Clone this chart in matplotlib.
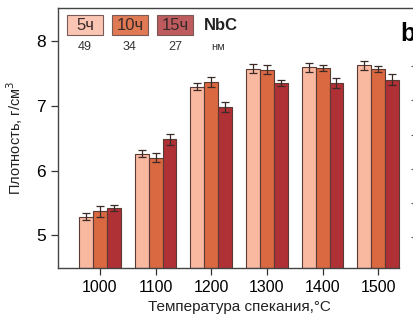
import numpy as np
import matplotlib
matplotlib.use("Agg")
import matplotlib.pyplot as plt
from matplotlib.patches import Rectangle

plt.rcParams['font.family'] = ['Liberation Sans', 'DejaVu Sans']

temps = ['1000', '1100', '1200', '1300', '1400', '1500']
series = ['5ч', '10ч', '15ч']
sizes = ['49', '34', '27']
colors = ['#F9B8A0', '#DA6840', '#AF3035']
box_colors = ['#FAC6B3', '#DF7A55', '#BD5B5E']

dens_5h = [5.29, 6.26, 7.29, 7.57, 7.59, 7.62]
dens_10h = [5.37, 6.20, 7.36, 7.55, 7.58, 7.56]
dens_15h = [5.42, 6.48, 6.98, 7.35, 7.35, 7.40]
err_5h = [0.05, 0.05, 0.05, 0.07, 0.07, 0.07]
err_10h = [0.08, 0.07, 0.08, 0.07, 0.05, 0.05]
err_15h = [0.05, 0.09, 0.08, 0.05, 0.08, 0.08]

W, H = 414, 326
fig = plt.figure(figsize=(W / 100, H / 100), dpi=100)
ax = fig.add_axes([0.140, 0.178, 0.875, 0.797])

x = np.arange(len(temps))
w = 0.25
for i, (vals, errs) in enumerate([(dens_5h, err_5h), (dens_10h, err_10h), (dens_15h, err_15h)]):
    ax.bar(x + (i - 1) * w, np.array(vals) - 4.5, w, bottom=4.5, color=colors[i],
           edgecolor='#5a3a35', linewidth=0.8, zorder=2)
    ax.errorbar(x + (i - 1) * w, vals, yerr=errs, fmt='none', ecolor='#3a2a28',
                elinewidth=0.9, capsize=3, capthick=0.9, zorder=3)

ax.set_xlim(-0.755, 5.755)
ax.set_ylim(4.5, 8.5)
ax.set_xticks(x)
ax.set_xticklabels(temps)
ax.set_yticks([5, 6, 7, 8])
ax.tick_params(labelsize=11.5, length=5, width=0.9, color='#333333', direction='out')
ax.tick_params(axis='y', labelsize=12.5)
ax.spines['right'].set_visible(False)
ax.spines['bottom'].set_bounds(-0.755, 5.38)
for s in ['left', 'bottom', 'top']:
    ax.spines[s].set_color('#444444')
    ax.spines[s].set_linewidth(1.0)

ax.set_xlabel('Температура спекания,°C', fontsize=11, labelpad=4, color='#222222')
ax.set_ylabel('Плотность, г/см$^3$', fontsize=10.5, labelpad=8, color='#222222')

# legend boxes with crystallite sizes underneath
for i, name in enumerate(series):
    x0 = 67 + 45 * i
    fig.patches.append(Rectangle((x0 / W, 1 - 35 / H), 36 / W, 20 / H, transform=fig.transFigure,
                                 facecolor=box_colors[i], edgecolor='#7a5a55', linewidth=0.8))
    fig.text((x0 + 18) / W, 1 - 25 / H, name, fontsize=12, ha='center', va='center', color='#3a2a28')
    fig.text((x0 + 18) / W, 1 - 47 / H, sizes[i], fontsize=9, ha='center', va='center', color='#333333')
fig.text(221 / W, 1 - 25 / H, 'NbC', fontsize=12, fontweight='bold', ha='center', va='center',
         color='#222222')
fig.text(218 / W, 1 - 47 / H, 'нм', fontsize=8, ha='center', va='center', color='#333333')

fig.text(400 / W, 1 - 34 / H, 'b', fontsize=18, fontweight='bold', ha='left', va='center')

# edge of the neighbouring panel
ax2 = fig.add_axes([1.002, 0.178, 0.3, 0.797])
ax2.set_ylim(0, 7.6)
ax2.set_yticks(np.arange(0.9, 7.5, 1.0))
ax2.set_yticklabels([])
ax2.set_xticks([])
ax2.tick_params(length=3, width=0.8, color='#555555')
for s in ax2.spines.values():
    s.set_visible(False)
ax2.patch.set_visible(False)

fig.savefig('out.png', dpi=100)
